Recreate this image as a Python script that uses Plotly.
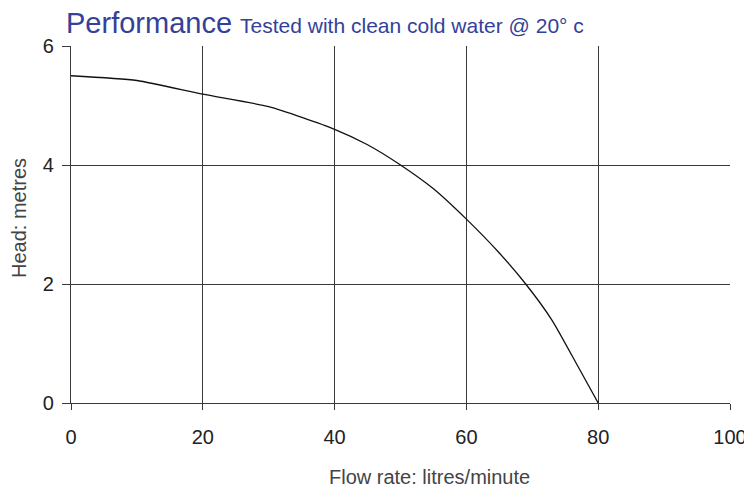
import plotly.graph_objects as go

flow = [0, 10, 20, 30, 40, 45, 50, 55, 60, 65, 69, 73, 77, 80]
head = [5.5, 5.42, 5.19, 4.98, 4.6, 4.34, 4.0, 3.6, 3.09, 2.52, 2.0, 1.39, 0.6, 0.0]

x_ticks = [0, 20, 40, 60, 80, 100]
y_ticks = [0, 2, 4, 6]

FONT = "Liberation Sans"

fig = go.Figure()
fig.add_trace(go.Scatter(x=flow, y=head, mode="lines",
                         line=dict(color="#111111", width=1.3, shape="spline", smoothing=0.6),
                         showlegend=False, hoverinfo="skip"))

axis_common = dict(showgrid=True, gridcolor="#3a3a3a", gridwidth=1.3,
                   zeroline=False, showline=True, linecolor="#3a3a3a", linewidth=1.3,
                   ticks="outside", tickcolor="#3a3a3a", tickwidth=1.3,
                   tickfont=dict(family=FONT, size=20, color="#222222"))

fig.update_xaxes(range=[0, 100], tickvals=x_ticks, ticklen=6, ticklabelstandoff=10,
                 **axis_common)
fig.update_yaxes(range=[0, 6], tickvals=y_ticks, ticklen=8, ticklabelstandoff=4,
                 **axis_common)

# axis titles placed as annotations (reference titles are off-centre)
fig.add_annotation(text="Flow rate: litres/minute", xref="paper", yref="paper",
                   x=(430 - 71) / (730 - 71), y=-(477 - 403) / (403 - 46),
                   xanchor="center", yanchor="middle", showarrow=False,
                   font=dict(family=FONT, size=20, color="#444444"))
fig.add_annotation(text="Head: metres", xref="paper", yref="paper", textangle=-90,
                   x=-(71 - 19) / (730 - 71), y=(403 - 218) / (403 - 46),
                   xanchor="center", yanchor="middle", showarrow=False,
                   font=dict(family=FONT, size=20, color="#444444"))

fig.update_layout(
    width=752, height=489,
    margin=dict(l=63, r=30, t=38, b=94),
    paper_bgcolor="white", plot_bgcolor="white",
    title=dict(text="Performance <span style='font-size:21px'>Tested with clean cold water @ 20° c</span>",
               x=58/752, xanchor="left", y=1-15/489, yanchor="middle",
               font=dict(family=FONT, size=29, color="#33419a")),
)

fig.write_html("out.html")
